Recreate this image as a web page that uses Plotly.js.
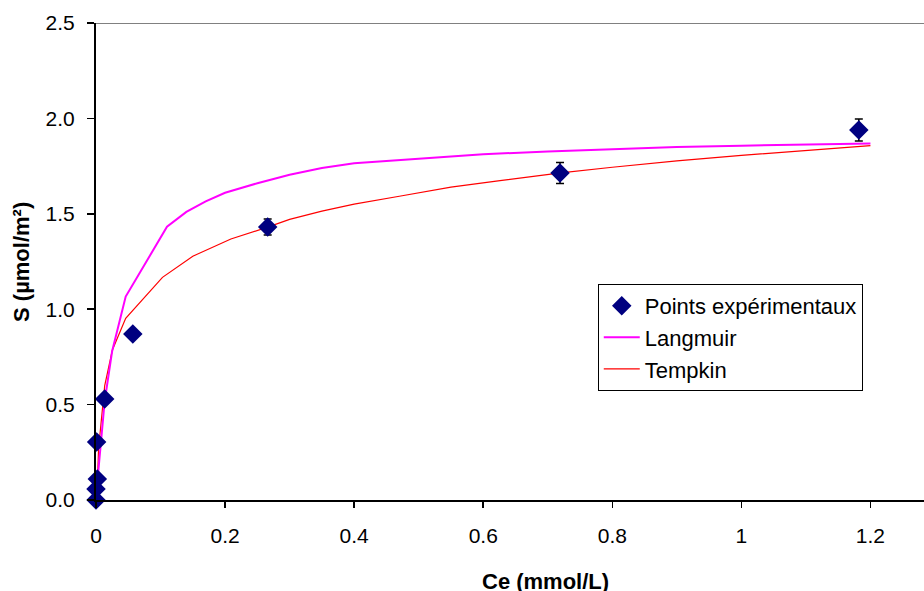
<!DOCTYPE html>
<html>
<head>
<meta charset="utf-8">
<script src="https://cdn.plot.ly/plotly-3.0.1.min.js"></script>
<style>html,body{margin:0;padding:0;background:#fff;}#chart{width:924px;height:591px;}</style>
</head>
<body>
<div id="chart"></div>
<script>
// Experimental points
const expCe = [0, 0, 0.002, 0.001, 0.0135, 0.057, 0.266, 0.719, 1.182];
const expS = [0, 0.058, 0.11, 0.304, 0.529, 0.87, 1.431, 1.714, 1.939];
const expErr = [0, 0, 0, 0, 0, 0.02, 0.042, 0.055, 0.058];

// Langmuir curve
const langCe = [0, 0.0014, 0.0135, 0.025, 0.046, 0.11, 0.14, 0.17, 0.2, 0.25, 0.3, 0.35, 0.4, 0.5, 0.6, 0.7, 0.8, 0.9, 1.0, 1.1, 1.2];
const langS = [0, 0.07, 0.52, 0.78, 1.066, 1.432, 1.51, 1.565, 1.61, 1.66, 1.705, 1.74, 1.765, 1.79, 1.812, 1.827, 1.84, 1.85, 1.857, 1.863, 1.869];

// Tempkin curve
const tempCe = [0.0017, 0.004, 0.0135, 0.0254, 0.046, 0.103, 0.15, 0.209, 0.266, 0.3, 0.35, 0.4, 0.47, 0.55, 0.626, 0.72, 0.8, 0.9, 1.0, 1.1, 1.2];
const tempS = [0.05, 0.27, 0.60, 0.786, 0.952, 1.167, 1.278, 1.368, 1.43, 1.471, 1.514, 1.551, 1.592, 1.64, 1.674, 1.715, 1.744, 1.777, 1.806, 1.832, 1.857];

const xTicks = [0, 0.2, 0.4, 0.6, 0.8, 1, 1.2];
const xTickText = ['0', '0.2', '0.4', '0.6', '0.8', '1', '1.2'];
const yTicks = [0, 0.5, 1.0, 1.5, 2.0, 2.5];
const yTickText = ['0.0', '0.5', '1.0', '1.5', '2.0', '2.5'];

const FONT = 'Liberation Sans, Arial, sans-serif';

const traces = [
  {
    x: tempCe, y: tempS, mode: 'lines', name: 'Tempkin',
    line: {color: '#FF0000', width: 1.2}
  },
  {
    x: langCe, y: langS, mode: 'lines', name: 'Langmuir',
    line: {color: '#FF00FF', width: 2}
  },
  {
    x: expCe, y: expS, mode: 'markers', name: 'Points expérimentaux',
    cliponaxis: false,
    marker: {symbol: 'diamond', color: '#000080', size: 15},
    error_y: {type: 'data', array: expErr, visible: true, color: '#000000', thickness: 1.5, width: 4}
  }
];

const layout = {
  width: 924, height: 591,
  margin: {l: 96, r: 0, t: 23, b: 91},
  paper_bgcolor: '#ffffff', plot_bgcolor: '#ffffff',
  font: {family: FONT, size: 21, color: '#000000'},
  showlegend: true,
  legend: {
    x: 0.606, y: 0.453, xanchor: 'left', yanchor: 'top',
    bordercolor: '#000000', borderwidth: 1, bgcolor: '#ffffff',
    font: {family: FONT, size: 22, color: '#000000'},
    traceorder: 'reversed', tracegroupgap: 0, itemwidth: 36
  },
  xaxis: {
    range: [0, 1.283], tickvals: xTicks, ticktext: xTickText,
    showgrid: false, zeroline: false,
    showline: true, linecolor: '#000000', linewidth: 2,
    ticks: 'outside', ticklen: 6, tickwidth: 1.5, tickcolor: '#000000',
    ticklabelstandoff: 10,
    tickfont: {family: FONT, size: 21, color: '#000000'}
  },
  yaxis: {
    range: [0, 2.5], tickvals: yTicks, ticktext: yTickText,
    showgrid: false, zeroline: false,
    showline: true, linecolor: '#000000', linewidth: 2,
    ticks: 'outside', ticklen: 7, tickwidth: 1.5, tickcolor: '#000000',
    ticklabelstandoff: 8,
    tickfont: {family: FONT, size: 21, color: '#000000'}
  },
  shapes: [
    {type: 'line', xref: 'paper', yref: 'y', x0: 0, x1: 1, y0: 2.5, y1: 2.5,
     line: {color: '#808080', width: 2}}
  ],
  annotations: [
    {text: '<b>Ce (mmol/L)</b>', xref: 'paper', yref: 'paper', x: 0.543, y: -0.17,
     xanchor: 'center', yanchor: 'middle', showarrow: false,
     font: {family: FONT, size: 22, color: '#000000'}},
    {text: '<b>S (µmol/m²)</b>', xref: 'paper', yref: 'paper', x: -0.09, y: 0.5,
     xanchor: 'center', yanchor: 'middle', showarrow: false, textangle: -90,
     font: {family: FONT, size: 22, color: '#000000'}}
  ]
};

Plotly.newPlot('chart', traces, layout, {displayModeBar: false, staticPlot: true});
</script>
</body>
</html>
